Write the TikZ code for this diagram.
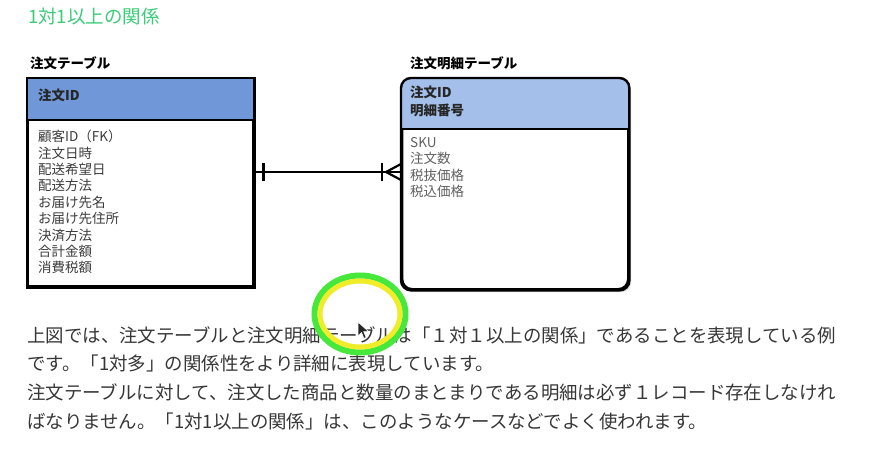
\documentclass[tikz,border=0pt]{standalone}
\usepackage{fontspec}
\setmainfont{Noto Sans CJK JP}
\usetikzlibrary{calc, shadows}

\definecolor{titlegreen}{RGB}{58,204,120}
\definecolor{headdark}{RGB}{112,152,216}
\definecolor{headlight}{RGB}{164,191,233}
\definecolor{bodytext}{RGB}{60,60,60}
\definecolor{paratext}{RGB}{55,55,55}
\definecolor{ringgreen}{RGB}{70,232,60}
\definecolor{ringyellow}{RGB}{240,236,40}

\tikzset{
  tablebox/.style={
    draw=black, line width=2.4pt, fill=white, anchor=north west,
    drop shadow={shadow xshift=3pt, shadow yshift=-3pt, opacity=0.3},
    inner sep=0pt
  },
  tabletitle/.style={anchor=west, inner sep=0pt, font=\fontsize{13.5}{16}\selectfont\bfseries},
  keytext/.style={
    anchor=north west, inner sep=0pt, align=left, text=black!85,
    font=\fontsize{13.5}{17.5}\selectfont\bfseries
  },
  coltext/.style={
    anchor=north west, inner sep=0pt, align=left, text=bodytext,
    font=\fontsize{13.5}{16.4}\selectfont
  },
  relline/.style={line width=2.2pt, black},
}

\begin{document}
\begin{tikzpicture}[
      x=1pt, y=-1pt,
      divider/.style={line width=2.4pt, black}
    ]
    \useasboundingbox[fill=white] (0,0) rectangle (870,457);

    % Title
    \node[anchor=west, inner sep=0pt, text=titlegreen, font=\fontsize{18.5}{20}\selectfont]
      (title) at (28,17) {1対1以上の関係};

    % Order table
    \node[tabletitle] (ordername) at (30,63) {注文テーブル};
    \node[tablebox, minimum width=225pt, minimum height=207pt] (order) at (27,78) {};
    \coordinate (orderbar) at (0,120);
    \fill[headdark] (order.north west) rectangle (order.east |- orderbar);
    \draw[divider] (order.west |- orderbar) -- (order.east |- orderbar);
    \draw[line width=2.4pt] (order.north west) rectangle (order.south east);
    \node[keytext] (orderkey) at (38,89) {注文ID};
    \node[coltext] (ordercols) at (38,130)
      {顧客ID（FK）\\注文日時\\配送希望日\\配送方法\\お届け先名\\お届け先住所\\決済方法\\合計金額\\消費税額};

    % Order detail table
    \node[tabletitle] (detailname) at (410,63) {注文明細テーブル};
    \node[tablebox, rounded corners=10pt, minimum width=226pt, minimum height=210pt] (detail) at (401,78) {};
    \coordinate (detailbar) at (0,129);
    \begin{scope}
      \clip[rounded corners=10pt] (detail.north west) rectangle (detail.south east);
      \fill[headlight] (detail.north west) rectangle (detail.east |- detailbar);
    \end{scope}
    \draw[divider] (detail.west |- detailbar) -- (detail.east |- detailbar);
    \draw[line width=2.4pt, rounded corners=10pt] (detail.north west) rectangle (detail.south east);
    \node[keytext] (detailkey) at (410,86) {注文ID\\明細番号};
    \node[coltext, text=black!62] (detailcols) at (410,137) {SKU\\注文数\\税抜価格\\税込価格};

    % One to one-or-more relation
    \coordinate (relrow) at (0,172);
    \coordinate (relstart) at (order.east |- relrow);
    \coordinate (relend) at (detail.west |- relrow);
    \draw[relline] (relstart) -- (relend);
    \draw[relline] ([xshift=9pt]relstart) ++(0,-9) -- ++(0,18);
    \draw[relline] ([xshift=-19pt]relend) ++(0,-9) -- ++(0,18);
    \draw[relline] ([yshift=8pt]relend) -- ([xshift=-15pt]relend) -- ([yshift=-8pt]relend);

    % Explanation
    \node[anchor=north west, inner sep=0pt, align=left, text=paratext,
          font=\fontsize{18.45}{28.7}\selectfont] (caption) at (27,326)
      {上図では、注文テーブルと注文明細テーブルは「１対１以上の関係」であることを表現している例\\
       です。「1対多」の関係性をより詳細に表現しています。\\
       注文テーブルに対して、注文した商品と数量のまとまりである明細は必ず１レコード存在しなけれ\\
       ばなりません。「1対1以上の関係」は、このようなケースなどでよく使われます。};

    % Cursor highlight
    \draw[ringgreen, line width=6pt] (360,314) ellipse [x radius=45.5, y radius=38.5];
    \draw[ringyellow, line width=5pt] (360,314) ellipse [x radius=40, y radius=33];
    \fill[black!85, draw=white, line width=0.6pt] (358,322) -- ++(0,14) -- ++(3.5,-3.5)
      -- ++(2.5,6) -- ++(2.2,-1) -- ++(-2.5,-5.8) -- ++(5,0) -- cycle;
\end{tikzpicture}
\end{document}
